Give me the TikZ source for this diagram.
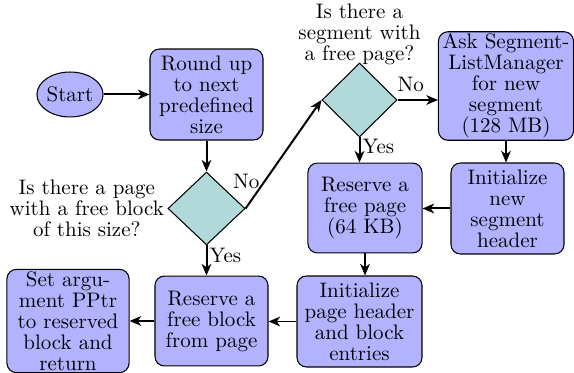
\documentclass[tikz,border=0pt]{standalone}
\usetikzlibrary{shapes.geometric,arrows.meta}
\begin{document}
\begin{tikzpicture}[x=0.476pt,y=-0.476pt,
  every node/.style={font=\fontsize{10pt}{10pt}\selectfont},
  box/.style={draw=black, fill=blue!30, rounded corners=4.5pt, align=center, inner sep=1pt, line width=0.5pt},
  decision/.style={draw=black, fill=teal!30, diamond, inner sep=0pt, line width=0.5pt},
  lbl/.style={align=center, inner sep=0pt},
  arr/.style={line width=0.95pt, -{Stealth[length=5.5pt,width=4.6pt,inset=1.6pt]}},
]
\useasboundingbox (0,0) rectangle (574,373);
\node[ellipse, draw=black, fill=blue!30, line width=0.5pt, inner sep=0pt, minimum width=30.5pt, minimum height=21.4pt] (start) at (70,94.5) {Start};
\node[box, minimum width=53.8pt, minimum height=43.3pt] (round) at (206.5,94.5) {Round up\\to next\\predefined\\size};
\node[decision, minimum width=36.7pt, minimum height=34.7pt] (dec1) at (206.5,208.5) {};
\node[lbl, anchor=east, inner sep=1.5pt] (q1) at (dec1.west) {Is there a page\\with a free block\\of this size?};
\node[decision, minimum width=35.7pt, minimum height=35.2pt] (dec2) at (359.5,100) {};
\node[lbl, anchor=south, yshift=-1.4pt] (q2) at (dec2.north) {Is there a\\segment with\\a free page?};
\node[box, minimum width=64.3pt, minimum height=51.4pt] (ask) at (506,86) {Ask Segment-\\ListManager\\for new\\segment\\(128 MB)};
\node[box, minimum width=53.8pt, minimum height=43.3pt] (segh) at (507.5,208.5) {Initialize\\new\\segment\\header};
\node[box, minimum width=54.3pt, minimum height=42.8pt] (page) at (365,208) {Reserve a\\free page\\(64 KB)};
\node[box, minimum width=59.5pt, minimum height=43.3pt] (pageh) at (359.5,321.5) {Initialize\\page header\\and block\\entries};
\node[box, minimum width=53.8pt, minimum height=42.8pt] (block) at (211.5,321) {Reserve a\\free block\\from page};
\node[box, minimum width=58.1pt, minimum height=48.6pt] (setarg) at (68,321) {Set argu-\\ment PPtr\\to reserved\\block and\\return};

\draw[arr] (start) -- (round);
\draw[arr] (round) -- (dec1);
\draw[arr] (dec1.east) -- node[pos=0.25, anchor=east, inner sep=2pt] {No} (dec2.west);
\draw[arr] (dec2.east) -- node[pos=0.33, above] {No} (dec2.east -| ask.west);
\draw[arr] (dec2.south) -- node[pos=0.35, anchor=west, inner sep=1pt] {Yes} (dec2.south |- page.north);
\draw[arr] (ask.south) -- (ask.south |- segh.north);
\draw[arr] (segh.west) -- (segh.west -| page.east);
\draw[arr] (page.south) -- (page.south |- pageh.north);
\draw[arr] (pageh.west) -- (pageh.west -| block.east);
\draw[arr] (dec1.south) -- node[pos=0.32, anchor=west, inner sep=1pt] {Yes} (dec1.south |- block.north);
\draw[arr] (block.west) -- (block.west -| setarg.east);
\end{tikzpicture}
\end{document}
